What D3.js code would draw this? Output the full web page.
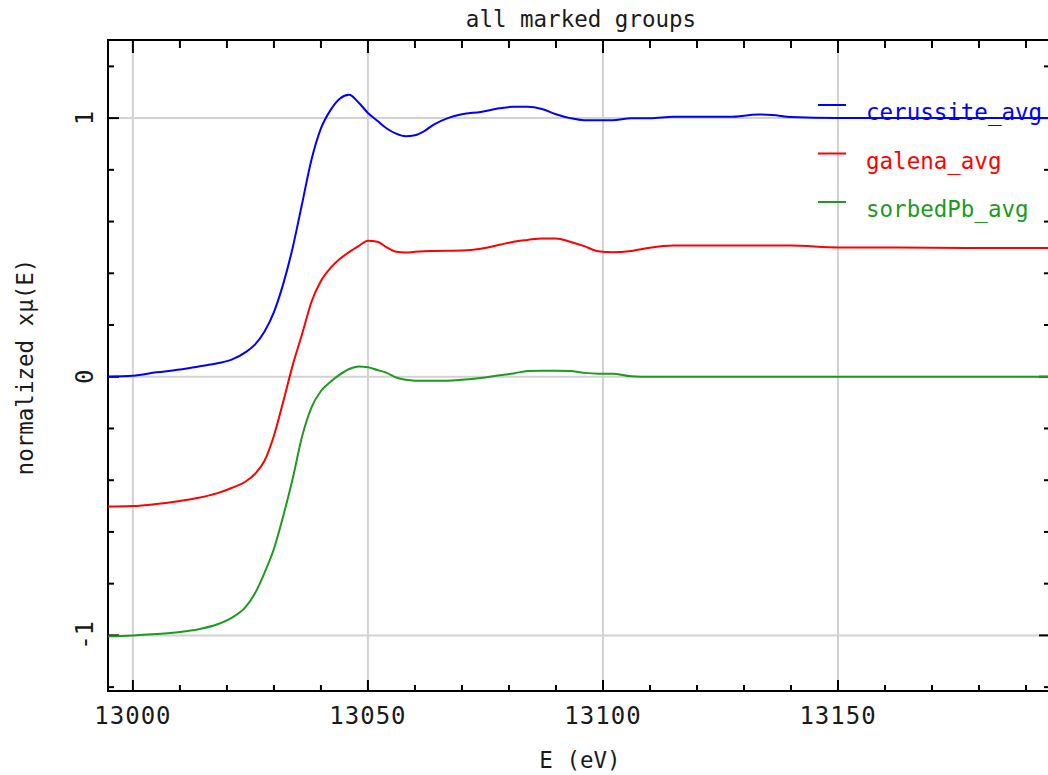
<!DOCTYPE html>
<html>
<head>
<meta charset="utf-8">
<script src="https://cdn.jsdelivr.net/npm/d3@7"></script>
<style>
  body { margin: 0; background: #fff; }
  text { font-family: "DejaVu Sans Mono", monospace; fill: #1a1a1a; }
</style>
</head>
<body>
<script>

var titleText = "all marked groups";
var xLabel = "E (eV)";
var yLabel = "normalized xμ(E)";

var seriesNames = ["cerussite_avg", "galena_avg", "sorbedPb_avg"];
var seriesColors = ["#0000ff", "#ff0000", "#1e9a1e"];

var xTicks = [13000, 13050, 13100, 13150];
var yTicks = [-1, 0, 1];

// energy grid (eV)
var energy = [12994, 13000, 13005, 13010, 13014, 13018, 13021, 13024, 13026, 13028,
  13030, 13032, 13034, 13036, 13038, 13040, 13042, 13044, 13046, 13048,
  13050, 13052, 13054, 13056, 13058, 13060, 13062, 13064, 13067, 13070,
  13074, 13078, 13081, 13084, 13087, 13090, 13093, 13096, 13099, 13102,
  13106, 13110, 13115, 13120, 13127, 13133, 13136, 13140, 13150, 13160,
  13170, 13180, 13190, 13200];

var cerussite = [0.0, 0.004, 0.017, 0.028, 0.04, 0.052, 0.066, 0.095, 0.125, 0.175,
  0.25, 0.36, 0.50, 0.67, 0.84, 0.96, 1.03, 1.075, 1.09, 1.06,
  1.02, 0.99, 0.96, 0.94, 0.93, 0.934, 0.95, 0.975, 1.0, 1.015,
  1.024, 1.038, 1.044, 1.044, 1.035, 1.015, 1.0, 0.992, 0.992, 0.992,
  0.999, 0.999, 1.005, 1.005, 1.005, 1.014, 1.012, 1.004, 1.0, 1.0,
  1.0, 1.0, 1.0, 1.0];

var galena = [-0.502, -0.5, -0.492, -0.48, -0.468, -0.45, -0.43, -0.405, -0.375, -0.325,
  -0.228, -0.095, 0.045, 0.165, 0.29, 0.37, 0.42, 0.455, 0.482, 0.505,
  0.526, 0.522, 0.5, 0.483, 0.48, 0.483, 0.485, 0.486, 0.487, 0.488,
  0.495, 0.51, 0.522, 0.529, 0.535, 0.535, 0.522, 0.505, 0.485, 0.481,
  0.486, 0.499, 0.507, 0.507, 0.507, 0.507, 0.507, 0.507, 0.5, 0.5,
  0.499, 0.498, 0.498, 0.498];

var sorbedPb = [-1.004, -1.0, -0.995, -0.987, -0.976, -0.957, -0.932, -0.89, -0.836, -0.758,
  -0.665, -0.537, -0.393, -0.23, -0.118, -0.055, -0.02, 0.008, 0.03, 0.04,
  0.037, 0.026, 0.015, -0.003, -0.012, -0.015, -0.015, -0.015, -0.015, -0.012,
  -0.005, 0.006, 0.013, 0.022, 0.023, 0.023, 0.022, 0.015, 0.012, 0.012,
  0.002, 0.0, 0.0, 0.0, 0.0, 0.0, 0.0, 0.0, 0.0, 0.0,
  0.0, 0.0, 0.0, 0.0];

var seriesValues = [cerussite, galena, sorbedPb];

var width = 1048, height = 775;
var margin = {top: 40, right: -2, bottom: 84, left: 108};
var plotW = width - margin.left - margin.right,
    plotH = height - margin.top - margin.bottom;

var x = d3.scaleLinear().domain([12994.7, 13195.1]).range([0, plotW]);
var y = d3.scaleLinear().domain([-1.215, 1.302]).range([plotH, 0]);

var svg = d3.select("body").append("svg")
    .attr("width", width)
    .attr("height", height);

var g = svg.append("g")
    .attr("transform", "translate(" + margin.left + "," + margin.top + ")");

g.append("clipPath").attr("id", "clip")
  .append("rect").attr("width", plotW).attr("height", plotH);

// grid
var grid = g.append("g").attr("class", "grid");
grid.selectAll("line.gx").data(xTicks).enter().append("line")
    .attr("x1", function(d){ return x(d); }).attr("x2", function(d){ return x(d); })
    .attr("y1", 0).attr("y2", plotH)
    .style("stroke", "#d2d2d2").style("stroke-width", 2);
grid.selectAll("line.gy").data(yTicks).enter().append("line")
    .attr("y1", function(d){ return y(d); }).attr("y2", function(d){ return y(d); })
    .attr("x1", 0).attr("x2", plotW)
    .style("stroke", "#d2d2d2").style("stroke-width", 2);

// inward ticks on all four sides
var xMinor = d3.range(12990, 13200, 10).filter(function(d){ return d >= x.domain()[0]; });
var yMinor = d3.range(-1.2, 1.4, 0.2).map(function(d){ return Math.round(d * 10) / 10; })
    .filter(function(d){ return d >= y.domain()[0] && d <= y.domain()[1]; });

function tickLen(isMajor){ return isMajor ? 11 : 6; }

var ticks = g.append("g").attr("class", "ticks")
    .style("stroke", "#000").style("stroke-width", 2);

xMinor.forEach(function(d){
  var len = tickLen(d % 50 === 0);
  ticks.append("line").attr("x1", x(d)).attr("x2", x(d)).attr("y1", plotH).attr("y2", plotH - len);
  ticks.append("line").attr("x1", x(d)).attr("x2", x(d)).attr("y1", 0).attr("y2", len + 2);
});
yMinor.forEach(function(d){
  var len = tickLen(Math.abs(d % 1) < 1e-6);
  ticks.append("line").attr("y1", y(d)).attr("y2", y(d)).attr("x1", 0).attr("x2", len);
  ticks.append("line").attr("y1", y(d)).attr("y2", y(d)).attr("x1", plotW).attr("x2", plotW - len);
});

// frame
g.append("rect")
    .attr("width", plotW).attr("height", plotH)
    .style("fill", "none").style("stroke", "#000").style("stroke-width", 2);

// curves
var line = d3.line()
    .x(function(d){ return x(d[0]); })
    .y(function(d){ return y(d[1]); })
    .curve(d3.curveMonotoneX);

var curves = g.append("g").attr("clip-path", "url(#clip)");
seriesValues.forEach(function(vals, i){
  var pts = energy.map(function(e, j){ return [e, vals[j]]; });
  curves.append("path")
      .datum(pts)
      .attr("d", line)
      .style("fill", "none")
      .style("stroke", seriesColors[i])
      .style("stroke-width", 2);
});

// legend
var legend = g.append("g").attr("transform", "translate(" + (818 - margin.left) + "," + (105 - margin.top) + ")");
seriesNames.forEach(function(name, i){
  var row = legend.append("g").attr("transform", "translate(0," + (i * 48.5) + ")");
  row.append("line").attr("x1", 0).attr("x2", 28).attr("y1", 0).attr("y2", 0)
      .style("stroke", seriesColors[i]).style("stroke-width", 2);
  row.append("text").attr("x", 48).attr("y", 15)
      .style("font-size", "22.5px")
      .style("fill", seriesColors[i])
      .text(name);
});

// tick labels
svg.selectAll("text.xt").data(xTicks).enter().append("text")
    .attr("class", "xt")
    .attr("x", function(d){ return margin.left + x(d); })
    .attr("y", 724)
    .attr("text-anchor", "middle")
    .style("font-size", "24px")
    .style("letter-spacing", "1px")
    .text(function(d){ return d; });

svg.selectAll("text.yt").data(yTicks).enter().append("text")
    .attr("class", "yt")
    .attr("transform", function(d){ return "translate(93," + (margin.top + y(d)) + ") rotate(-90)"; })
    .attr("text-anchor", "middle")
    .style("font-size", "24px")
    .text(function(d){ return d; });

// titles
svg.append("text")
    .attr("x", 581).attr("y", 27)
    .attr("text-anchor", "middle")
    .style("font-size", "22.5px")
    .text(titleText);

svg.append("text")
    .attr("x", 580).attr("y", 768)
    .attr("text-anchor", "middle")
    .style("font-size", "22.5px")
    .text(xLabel);

svg.append("text")
    .attr("transform", "translate(33,367) rotate(-90)")
    .attr("text-anchor", "middle")
    .style("font-size", "22.5px")
    .text(yLabel);

</script>
</body>
</html>
